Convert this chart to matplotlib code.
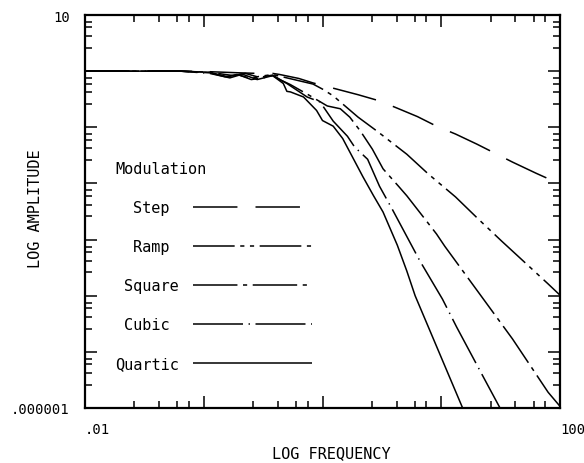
import numpy as np
import matplotlib
matplotlib.use("Agg")
import matplotlib.pyplot as plt
from matplotlib.ticker import FixedLocator, FixedFormatter, NullFormatter

# --- log10(frequency) / log10(amplitude) ---
step_f = [-2.0, -1.2, -0.95, -0.7, -0.55, -0.42, -0.36, -0.2, -0.08, 0.12, 0.3,
          0.48, 0.63, 0.8, 0.96, 1.12, 1.3, 1.45, 1.6, 1.8, 2.0]
step_a = [0.0, 0.0, -0.01, -0.03, -0.04, -0.04, -0.06, -0.13, -0.21, -0.32, -0.42,
          -0.53, -0.66, -0.81, -0.98, -1.12, -1.30, -1.46, -1.62, -1.82, -2.01]

ramp_f = [-2.0, -1.2, -0.95, -0.85, -0.75, -0.65, -0.55, -0.42, -0.3, -0.2, -0.08,
          0.0, 0.09, 0.3, 0.46, 0.71, 0.89, 1.12, 1.31, 1.51, 1.7, 1.9, 2.0]
ramp_a = [0.0, 0.0, -0.02, -0.05, -0.08, -0.04, -0.1, -0.06, -0.12, -0.17, -0.23,
          -0.32, -0.44, -0.82, -1.07, -1.48, -1.83, -2.24, -2.63, -3.03, -3.40, -3.79, -3.99]

square_f = [-2.0, -1.2, -0.95, -0.82, -0.72, -0.62, -0.5, -0.42, -0.35, -0.27, -0.12,
            0.04, 0.15, 0.23, 0.32, 0.42, 0.51, 0.64, 0.71, 0.85, 0.96, 1.03, 1.31,
            1.6, 1.9, 2.0]
square_a = [0.0, 0.0, -0.03, -0.1, -0.06, -0.12, -0.1, -0.07, -0.16, -0.24, -0.42,
            -0.62, -0.67, -0.82, -1.07, -1.39, -1.74, -2.05, -2.22, -2.6, -2.9, -3.12, -3.93,
            -4.77, -5.72, -5.97]

cubic_f = [-2.0, -1.2, -0.95, -0.78, -0.7, -0.6, -0.5, -0.42, -0.3, -0.13, -0.02,
           0.09, 0.21, 0.27, 0.38, 0.48, 0.59, 0.82, 1.01, 1.13, 1.35, 1.5]
cubic_a = [0.0, 0.0, -0.04, -0.12, -0.07, -0.15, -0.12, -0.08, -0.22, -0.46, -0.55,
           -0.89, -1.16, -1.35, -1.57, -2.05, -2.47, -3.38, -4.06, -4.56, -5.43, -6.02]

quartic_f = [-2.0, -1.2, -0.95, -0.8, -0.68, -0.55, -0.42, -0.33, -0.3, -0.27, -0.16,
             -0.05, 0.0, 0.09, 0.17, 0.27, 0.34, 0.43, 0.51, 0.63, 0.71, 0.78, 1.0, 1.19]
quartic_a = [0.0, 0.0, -0.02, -0.1, -0.05, -0.15, -0.08, -0.22, -0.36, -0.37, -0.46,
             -0.70, -0.88, -0.98, -1.2, -1.6, -1.88, -2.22, -2.51, -3.1, -3.56, -4.0, -5.1, -6.05]

labels = ["Step ", "Ramp ", "Square", "Cubic ", "Quartic"]

# dash patterns in points (plotter style)
styles = [
    (0, (32, 13)),
    (0, (30, 4, 3, 4, 3, 4)),
    (0, (32, 4, 3, 4)),
    (0, (36, 4, 1, 4)),
    "-",
]

plt.rcParams["font.family"] = ["DejaVu Sans Mono"]
plt.rcParams["lines.scale_dashes"] = False

fig = plt.figure(figsize=(5.84, 4.64), dpi=100)
ax = fig.add_axes([85 / 584, 55 / 464, 475 / 584, 393 / 464])

curves = [(step_f, step_a), (ramp_f, ramp_a), (square_f, square_a),
          (cubic_f, cubic_a), (quartic_f, quartic_a)]
for (lf, la), lab, ls in zip(curves, labels, styles):
    ax.plot(10 ** np.array(lf), 10 ** np.array(la), color="black", lw=1.1,
            linestyle=ls, label=lab, solid_capstyle="butt", dash_capstyle="butt")

ax.set_xscale("log")
ax.set_yscale("log")
ax.set_xlim(0.01, 100)
ax.set_ylim(1e-6, 10)

# decade ticks long, a few intermediate ticks short, labels only at the ends
mult = [2.6, 4.2, 6.0, 7.5]
xdec = [-2, -1, 0, 1, 2]
ydec = [-6, -5, -4, -3, -2, -1, 0, 1]
ax.xaxis.set_major_locator(FixedLocator([10.0 ** d for d in xdec]))
ax.xaxis.set_minor_locator(FixedLocator([m * 10.0 ** d for d in xdec[:-1] for m in mult]))
ax.yaxis.set_major_locator(FixedLocator([10.0 ** d for d in ydec]))
ax.yaxis.set_minor_locator(FixedLocator([m * 10.0 ** d for d in ydec[:-1] for m in mult]))
ax.xaxis.set_major_formatter(FixedFormatter([".01", "", "", "", "100"]))
ax.yaxis.set_major_formatter(FixedFormatter([".000001", "", "", "", "", "", "", "10"]))
ax.xaxis.set_minor_formatter(NullFormatter())
ax.yaxis.set_minor_formatter(NullFormatter())

ax.tick_params(which="both", direction="in", top=True, right=True, width=1.1,
               labelsize=10)
ax.tick_params(which="major", length=8.5)
ax.tick_params(which="minor", length=5)
ax.tick_params(axis="x", pad=10)
ax.tick_params(axis="y", pad=11)
for t in ax.get_xticklabels():
    t.set_horizontalalignment("left")
for s in ax.spines.values():
    s.set_linewidth(1.6)

ax.set_xlabel("LOG FREQUENCY", fontsize=11)
ax.set_ylabel("LOG AMPLITUDE", fontsize=11)
ax.xaxis.set_label_coords(0.518, -0.094)
ax.yaxis.set_label_coords(-0.088, 0.51)

leg = ax.legend(title="Modulation", loc="upper left", bbox_to_anchor=(0.0133, 0.6875),
                frameon=False, markerfirst=False, fontsize=11, title_fontsize=11,
                handlelength=7.8, handletextpad=0.9, labelspacing=1.57,
                borderpad=1.55, borderaxespad=0, alignment="left")

fig.savefig("out.png", dpi=100)
